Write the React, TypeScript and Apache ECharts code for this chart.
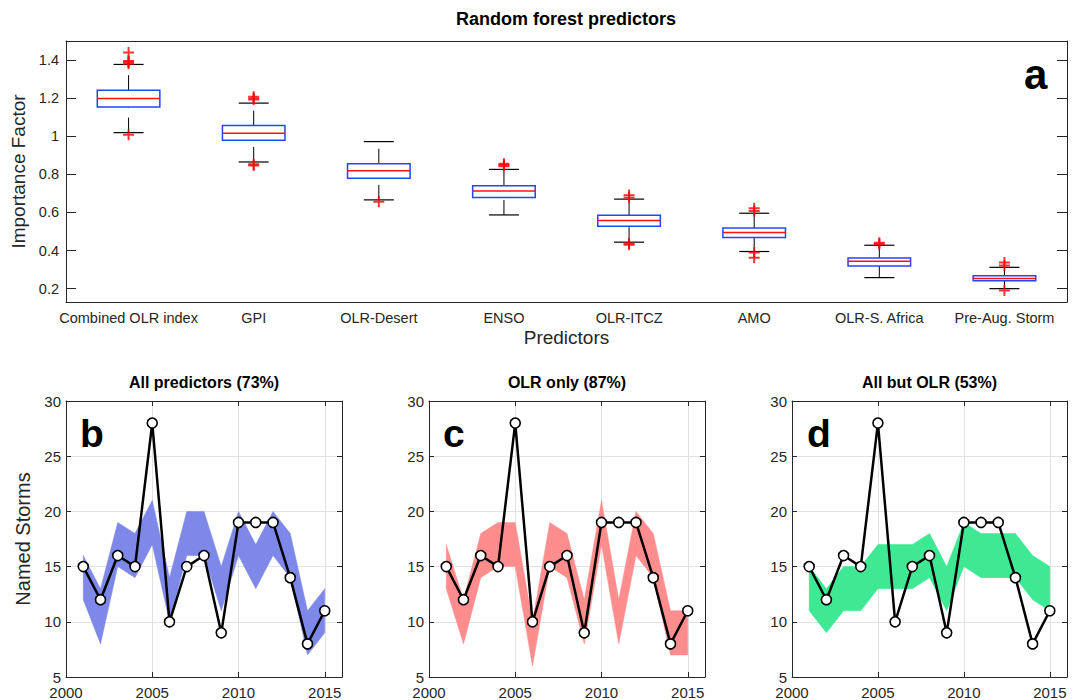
import React, { useEffect, useRef } from 'react';
import * as echarts from 'echarts';

// ---------- Panel a: random forest predictor importance ----------
const predictors = ['Combined OLR index', 'GPI', 'OLR-Desert', 'ENSO', 'OLR-ITCZ', 'AMO', 'OLR-S. Africa', 'Pre-Aug. Storm'];
const whiskerLow = [1.019, 0.865, 0.666, 0.587, 0.444, 0.395, 0.258, 0.200];
const quartile1 = [1.153, 0.979, 0.779, 0.679, 0.528, 0.468, 0.319, 0.242];
const medians = [1.198, 1.016, 0.819, 0.712, 0.558, 0.495, 0.344, 0.254];
const quartile3 = [1.242, 1.056, 0.856, 0.740, 0.586, 0.519, 0.361, 0.268];
const whiskerHigh = [1.377, 1.174, 0.972, 0.826, 0.670, 0.596, 0.428, 0.312];
const outliers = [
  [1.44, 1.395, 1.388, 1.381, 1.008],
  [1.208, 1.2, 1.193, 0.853, 0.846],
  [0.656],
  [0.856, 0.849, 0.843],
  [0.691, 0.678, 0.437, 0.431],
  [0.622, 0.608, 0.39, 0.362],
  [0.441, 0.434],
  [0.337, 0.322, 0.19],
];

// ---------- Panels b-d: named storms ----------
const years = [2001, 2002, 2003, 2004, 2005, 2006, 2007, 2008, 2009, 2010, 2011, 2012, 2013, 2014, 2015];
const observed = [15, 12, 16, 15, 28, 10, 15, 16, 9, 19, 19, 19, 14, 8, 11];
const allLower = [12, 8, 15, 14, 17, 10, 16, 16, 11, 16, 13, 16, 14, 7, 9];
const allUpper = [16, 13, 19, 18, 21, 14, 20, 20, 15, 20, 17, 20, 18, 11, 13];
const olrLower = [13, 8, 14, 15, 15, 6, 15, 14, 8, 17, 8, 16, 14, 7, 7];
const olrUpper = [17, 12, 18, 19, 19, 10, 19, 18, 12, 21, 12, 20, 18, 11, 11];
const butLower = [11, 9, 11, 11, 13, 13, 13, 14, 11, 15, 14, 14, 14, 12, 11];
const butUpper = [15, 13, 15, 15, 17, 17, 17, 18, 15, 19, 18, 18, 18, 16, 15];

const panels = [
  { title: 'All predictors (73%)', letter: 'b', lower: allLower, upper: allUpper, color: '#7d88e9' },
  { title: 'OLR only (87%)', letter: 'c', lower: olrLower, upper: olrUpper, color: '#ff8d8d' },
  { title: 'All but OLR (53%)', letter: 'd', lower: butLower, upper: butUpper, color: '#3fe892' },
];

const FONT = '"Liberation Sans", Arial, Helvetica, sans-serif';
const INK = '#262626';

export default function App() {
  const ref = useRef<HTMLDivElement>(null);

  useEffect(() => {
    if (!ref.current) return;
    const chart = echarts.init(ref.current, undefined, { renderer: 'svg' });

    const gridsBottom = [
      { left: 66, width: 276 },
      { left: 429, width: 276 },
      { left: 792, width: 275 },
    ];

    const grid: any[] = [{ left: 66, top: 41, width: 1001, height: 261 }];
    gridsBottom.forEach((g) => grid.push({ left: g.left, top: 401, width: g.width, height: 278 }));

    const impFormatter = (v: number) => {
      const r = Math.round(v * 5);
      return Math.abs(v * 5 - r) < 1e-6 ? String(Math.round(v * 10) / 10) : '';
    };

    const xAxis: any[] = [
      {
        type: 'category', gridIndex: 0, data: predictors, boundaryGap: true,
        axisLine: { lineStyle: { color: INK } },
        axisTick: { inside: true, alignWithLabel: true, length: 10, lineStyle: { color: INK } },
        axisLabel: { color: INK, fontSize: 14.5, fontFamily: FONT, margin: 8, interval: 0 },
        name: 'Predictors', nameLocation: 'middle', nameGap: 26,
        nameTextStyle: { color: INK, fontSize: 19, fontFamily: FONT },
      },
      {
        type: 'category', gridIndex: 0, data: predictors, boundaryGap: true, position: 'top',
        axisLine: { lineStyle: { color: INK } },
        axisTick: { inside: true, alignWithLabel: true, length: 10, lineStyle: { color: INK } },
        axisLabel: { show: false },
      },
    ];
    const yAxis: any[] = [
      {
        type: 'value', gridIndex: 0, min: 0.13, max: 1.5, splitNumber: 7,
        axisLine: { show: true, lineStyle: { color: INK } },
        axisTick: { show: true, inside: true, length: 10, lineStyle: { color: INK } },
        axisLabel: { color: INK, fontSize: 14.5, fontFamily: FONT, margin: 7, formatter: impFormatter },
        splitLine: { show: false },
        name: 'Importance Factor', nameLocation: 'middle', nameGap: 35,
        nameTextStyle: { color: INK, fontSize: 19, fontFamily: FONT },
      },
      {
        type: 'value', gridIndex: 0, min: 0.13, max: 1.5, splitNumber: 7, position: 'right',
        axisLine: { show: true, lineStyle: { color: INK } },
        axisTick: { show: true, inside: true, length: 10, lineStyle: { color: INK } },
        axisLabel: { show: false },
        splitLine: { show: false },
      },
    ];

    const fiveFormatter = (v: number) => (v % 5 === 0 ? String(v) : '');

    panels.forEach((p, k) => {
      const gi = k + 1;
      xAxis.push({
        type: 'value', gridIndex: gi, min: 2000, max: 2016, interval: 5,
        axisLine: { lineStyle: { color: INK } },
        axisTick: { inside: true, length: 5, lineStyle: { color: INK } },
        axisLabel: { color: INK, fontSize: 15, fontFamily: FONT, margin: 8, formatter: fiveFormatter, showMaxLabel: false },
        splitLine: { show: true, lineStyle: { color: '#e2e2e2' } },
      });
      xAxis.push({
        type: 'value', gridIndex: gi, min: 2000, max: 2016, interval: 5, position: 'top',
        axisLine: { lineStyle: { color: INK } },
        axisTick: { inside: true, length: 5, lineStyle: { color: INK } },
        axisLabel: { show: false },
        splitLine: { show: false },
      });
      yAxis.push({
        type: 'value', gridIndex: gi, min: 5, max: 30, interval: 5,
        axisLine: { show: true, lineStyle: { color: INK } },
        axisTick: { show: true, inside: true, length: 5, lineStyle: { color: INK } },
        axisLabel: { color: INK, fontSize: 15, fontFamily: FONT, margin: 5, formatter: fiveFormatter },
        splitLine: { show: true, lineStyle: { color: '#e2e2e2' } },
        ...(k === 0
          ? {
              name: 'Named Storms', nameLocation: 'middle', nameGap: 33,
              nameTextStyle: { color: INK, fontSize: 20, fontFamily: FONT },
            }
          : {}),
      });
      yAxis.push({
        type: 'value', gridIndex: gi, min: 5, max: 30, interval: 5, position: 'right',
        axisLine: { show: true, lineStyle: { color: INK } },
        axisTick: { show: true, inside: true, length: 5, lineStyle: { color: INK } },
        axisLabel: { show: false },
        splitLine: { show: false },
      });
    });

    const boxData = predictors.map((_, i) => [i, whiskerLow[i], quartile1[i], medians[i], quartile3[i], whiskerHigh[i]]);
    const outlierData: number[][] = [];
    outliers.forEach((arr, i) => arr.forEach((v) => outlierData.push([i, v])));

    const series: any[] = [
      {
        type: 'custom',
        xAxisIndex: 0, yAxisIndex: 0,
        data: boxData,
        encode: { x: 0, y: [1, 2, 3, 4, 5] },
        renderItem: (params: any, api: any) => {
          const idx = api.value(0);
          const lo = api.coord([idx, api.value(1)]);
          const b1 = api.coord([idx, api.value(2)]);
          const md = api.coord([idx, api.value(3)]);
          const b3 = api.coord([idx, api.value(4)]);
          const hi = api.coord([idx, api.value(5)]);
          const band = api.size([1, 0])[0];
          const bw = band * 0.5;
          const cw = band * 0.24;
          const x = lo[0];
          const whisker = { stroke: '#000', lineWidth: 1, lineDash: [15, 10] };
          const cap = { stroke: '#000', lineWidth: 1.2 };
          return {
            type: 'group',
            children: [
              { type: 'line', shape: { x1: x, y1: b3[1], x2: x, y2: hi[1] }, style: whisker },
              { type: 'line', shape: { x1: x, y1: lo[1], x2: x, y2: b1[1] }, style: whisker },
              { type: 'line', shape: { x1: x - cw / 2, y1: hi[1], x2: x + cw / 2, y2: hi[1] }, style: cap },
              { type: 'line', shape: { x1: x - cw / 2, y1: lo[1], x2: x + cw / 2, y2: lo[1] }, style: cap },
              {
                type: 'rect',
                shape: { x: x - bw / 2, y: b3[1], width: bw, height: b1[1] - b3[1] },
                style: { fill: 'none', stroke: '#1f47ff', lineWidth: 1.5 },
              },
              { type: 'line', shape: { x1: x - bw / 2, y1: md[1], x2: x + bw / 2, y2: md[1] }, style: { stroke: '#ff1010', lineWidth: 1.5 } },
            ],
          };
        },
        z: 2,
      },
      {
        type: 'scatter',
        xAxisIndex: 0, yAxisIndex: 0,
        data: outlierData,
        symbol: 'path://M4.1,0 L5.9,0 L5.9,4.1 L10,4.1 L10,5.9 L5.9,5.9 L5.9,10 L4.1,10 L4.1,5.9 L0,5.9 L0,4.1 L4.1,4.1 Z',
        symbolSize: 11,
        itemStyle: { color: '#ff0000' },
        z: 3,
      },
    ];

    panels.forEach((p, k) => {
      const xi = 2 + k * 2;
      const yi = 2 + k * 2;
      const rows = years.map((y, i) => [y, p.lower[i], p.upper[i]]);
      series.push({
        type: 'custom', xAxisIndex: xi, yAxisIndex: yi,
        data: rows,
        encode: { x: 0, y: [1, 2] },
        silent: true,
        z: 1,
        renderItem: (params: any, api: any) => {
          if (params.dataIndex !== 0) return null;
          const top = rows.map((r) => api.coord([r[0], r[2]]));
          const bottom = rows.map((r) => api.coord([r[0], r[1]])).reverse();
          return {
            type: 'polygon',
            shape: { points: top.concat(bottom) },
            style: { fill: p.color, stroke: p.color, lineWidth: 0.5 },
          };
        },
      });
      series.push({
        type: 'line', xAxisIndex: xi, yAxisIndex: yi,
        data: years.map((y, i) => [y, observed[i]]),
        symbol: 'circle', symbolSize: 10, showAllSymbol: true,
        lineStyle: { color: '#000', width: 2.5 },
        itemStyle: { color: '#fff', borderColor: '#000', borderWidth: 1.6 },
        z: 3,
      });
    });

    const graphic: any[] = [
      {
        type: 'text', x: 566, y: 19,
        style: { text: 'Random forest predictors', font: `bold 18px ${FONT}`, fill: '#000', textAlign: 'center', textVerticalAlign: 'middle' },
      },
      {
        type: 'text', x: 1024, y: 74,
        style: { text: 'a', font: `bold 42px ${FONT}`, fill: '#000', textAlign: 'left', textVerticalAlign: 'middle' },
      },
    ];
    const letterX = [80, 443, 807];
    panels.forEach((p, k) => {
      const g = gridsBottom[k];
      graphic.push({
        type: 'text', x: g.left + g.width / 2, y: 382,
        style: { text: p.title, font: `bold 16px ${FONT}`, fill: '#000', textAlign: 'center', textVerticalAlign: 'middle' },
      });
      graphic.push({
        type: 'text', x: letterX[k], y: 433,
        style: { text: p.letter, font: `bold 39px ${FONT}`, fill: '#000', textAlign: 'left', textVerticalAlign: 'middle' },
      });
    });

    chart.setOption({
      animation: false,
      backgroundColor: '#ffffff',
      textStyle: { fontFamily: FONT },
      grid,
      xAxis,
      yAxis,
      series,
      graphic,
    });

    return () => chart.dispose();
  }, []);

  return <div ref={ref} style={{ position: 'absolute', left: 0, top: 0, width: 1078, height: 700 }} />;
}
